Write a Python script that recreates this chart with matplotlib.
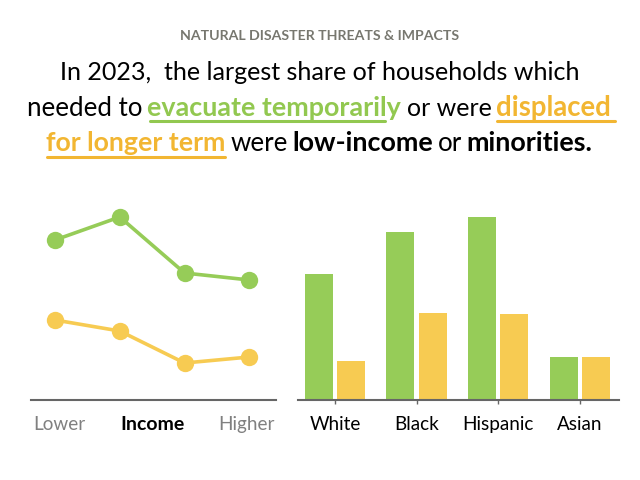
import matplotlib
matplotlib.use("Agg")
import matplotlib.pyplot as plt
import numpy as np
from matplotlib.lines import Line2D

FONT = "Lato"
GREEN, YELLOW = "#96CC58", "#F7CB52"
GREEN_T, YELLOW_T = "#92C850", "#F2B632"
AXIS = "#666666"

income_pos = [0, 1, 2, 3]
evacuated_income = [16.0, 18.3, 12.7, 12.0]
displaced_income = [8.0, 6.9, 3.7, 4.3]
groups = ["White", "Black", "Hispanic", "Asian"]
evacuated_race = [12.6, 16.8, 18.3, 4.3]
displaced_race = [3.9, 8.7, 8.6, 4.3]

W, H = 640, 480
fig = plt.figure(figsize=(6.4, 4.8), dpi=100, facecolor="white")
plt.rcParams["font.family"] = FONT


def box(x0, x1, ytop, ybot):
    return [x0 / W, 1 - ybot / H, (x1 - x0) / W, (ybot - ytop) / H]


def txt(x, y, s, size, weight="normal", color="black", ha="left"):
    fig.text(x / W, 1 - y / H, s, fontsize=size, fontweight=weight, color=color,
             ha=ha, va="baseline", family=FONT)


def rule(x0, x1, y, color, lw=2.2):
    fig.add_artist(Line2D([x0 / W, x1 / W], [1 - y / H, 1 - y / H], color=color,
                          lw=lw, solid_capstyle="round"))


# Left: line chart
ax1 = fig.add_axes(box(31, 276, 200, 400))
ax1.plot(income_pos, evacuated_income, color=GREEN, lw=2.6, marker="o", ms=12.5, mew=0)
ax1.plot(income_pos, displaced_income, color=YELLOW, lw=2.6, marker="o", ms=12.5, mew=0)
ax1.set_xlim(-0.369, 3.41)
ax1.set_ylim(0, 20)
ax1.set_xticks([])
ax1.set_yticks([])

# Right: grouped bars
ax2 = fig.add_axes(box(298, 619, 200, 400))
x = np.arange(len(groups))
ax2.bar(x - 0.2, evacuated_race, width=0.343, color=GREEN)
ax2.bar(x + 0.196, displaced_race, width=0.343, color=YELLOW)
ax2.set_xlim(-0.453, 3.478)
ax2.set_ylim(0, 20)
ax2.set_yticks([])
ax2.set_xticks(x)
ax2.set_xticklabels(groups, fontsize=13.6, family=FONT, color="black")
ax2.tick_params(axis="x", length=3.2, width=1, color=AXIS, pad=8)

for ax in (ax1, ax2):
    for s in ("top", "left", "right"):
        ax.spines[s].set_visible(False)
    ax.spines["bottom"].set_color(AXIS)
    ax.spines["bottom"].set_linewidth(1.5)

# Income axis labels
txt(33.5, 430, "Lower", 13.6, color="#808080")
txt(120.5, 430, "Income", 14, weight="bold")
txt(218, 430, "Higher", 13.6, color="#808080")

# Headline
BOLD = 19.4
txt(320, 40, "NATURAL DISASTER THREATS & IMPACTS", 10.2, weight="bold", color="#77776F", ha="center")
txt(320, 80, "In 2023,  the largest share of households which", 18.1, ha="center")
txt(27, 116, "needed to", 18.6)
txt(147, 116, "evacuate temporarily", BOLD, weight="bold", color=GREEN_T)
txt(407, 116, "or were", 18)
txt(496, 116, "displaced", 19.8, weight="bold", color=YELLOW_T)
txt(46, 151, "for longer term", 19.3, weight="bold", color=YELLOW_T)
txt(231, 151, "were", 18.6)
txt(292, 151, "low-income", BOLD, weight="bold")
txt(438, 151, "or", 18.6)
txt(466, 151, "minorities.", BOLD, weight="bold")
rule(150, 385, 121, GREEN_T)
rule(497, 615, 121, YELLOW_T)
rule(47, 225, 157, YELLOW_T)

fig.savefig("out.png", dpi=100)
